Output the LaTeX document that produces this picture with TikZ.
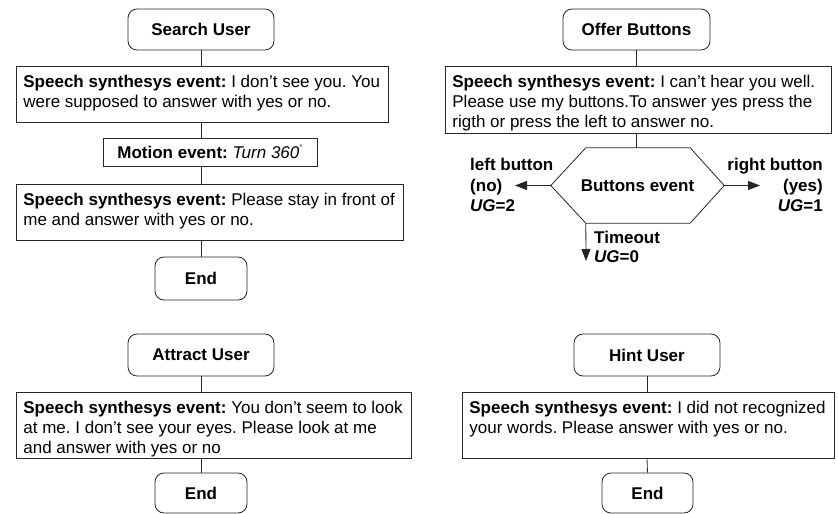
\documentclass[tikz,border=0pt]{standalone}
\usepackage{fontspec}
\setmainfont{Liberation Sans}
\usetikzlibrary{arrows.meta}
\frenchspacing
% fixed-size text block for the event boxes: width, height, text
\newcommand\speechtext[3]{\parbox[c][#2][t]{#1}{\raggedright\leftskip=7bp\rule{0pt}{21bp}#3}}
\newcommand\degmark{{\fontsize{8bp}{8bp}\selectfont\raisebox{8bp}{°}}}
\begin{document}
\begin{tikzpicture}[x=1bp,y=-1bp,
  every node/.style={font=\fontsize{17bp}{20bp}\selectfont},
  linecol/.style={draw=black!85, line width=0.8bp},
  title/.style={linecol, rounded corners=9bp, inner sep=0pt,
    font=\fontsize{17bp}{20bp}\selectfont\bfseries},
  speech/.style={linecol, inner sep=0pt, anchor=north west},
  plainbox/.style={linecol, inner sep=0pt},
  conn/.style={linecol},
  arr/.style={linecol, -{Triangle[length=12bp,width=9bp]}},
  lbl/.style={inner sep=0pt, font=\fontsize{17bp}{20.5bp}\selectfont\bfseries}
]
\useasboundingbox (0,0) rectangle (838,514);

% ---------- Search User ----------
\node[title, minimum width=146bp, minimum height=41bp] (su) at (201,29.5) {Search User};
\node[speech] (s1) at (16,66) {\speechtext{372bp}{56bp}{\textbf{Speech synthesys event:} I don’t see you. You\\
were supposed to answer with yes or no.}};
\node[plainbox, minimum width=214bp, minimum height=28bp] (m1) at (210,152)
  {\textbf{Motion event:} \textit{Turn 360}\degmark};
\node[speech] (s2) at (16,184) {\speechtext{387bp}{56bp}{\textbf{Speech synthesys event:} Please stay in front of\\
me and answer with yes or no.}};
\node[title, minimum width=92bp, minimum height=43bp] (e1) at (201,278.5) {End};

\draw[conn] (su.south) -- (su.south |- s1.north);
\draw[conn] (su.south |- s1.south) -- (su.south |- m1.north);
\draw[conn] (su.south |- m1.south) -- (su.south |- s2.north);
\draw[conn] (su.south |- s2.south) -- (e1.north);

% ---------- Offer Buttons ----------
\node[title, minimum width=147bp, minimum height=41bp] (ob) at (636.5,29.5) {Offer Buttons};
\node[speech] (s3) at (445,66) {\speechtext{386bp}{67bp}{\textbf{Speech synthesys event:} I can’t hear you well.\\
Please use my buttons.To answer yes press the\\
rigth or press the left to answer no.}};
\node[inner sep=0pt, minimum width=173bp, minimum height=75bp,
  font=\fontsize{17bp}{20bp}\selectfont\bfseries] (be) at (637.5,185.5) {Buttons event};
\draw[linecol] (be.west) -- ([xshift=35bp]be.north west) -- ([xshift=-34bp]be.north east)
  -- (be.east) -- ([xshift=-34bp]be.south east) -- ([xshift=35bp]be.south west) -- cycle;

\draw[conn] (ob.south) -- (ob.south |- s3.north);
\draw[conn] (ob.south |- s3.south) -- (ob.south |- be.north);

\coordinate (lt) at (515,185.5);
\coordinate (rt) at (760,185.5);
\coordinate (dn) at (586,261);
\draw[arr] (be.west) -- (lt);
\draw[arr] (be.east) -- (rt);
\draw[arr] ([xshift=35bp]be.south west) -- (dn);

\node[lbl, align=left, anchor=north west] (ll) at (470,158) {left button\\(no)\\\textit{UG}=2};
\node[lbl, align=right, anchor=north east] (rl) at (823,158) {right button\\(yes)\\\textit{UG}=1};
\node[lbl, align=left, anchor=north west, font=\fontsize{17bp}{19bp}\selectfont\bfseries] (tl) at (594,231) {Timeout\\\textit{UG}=0};

% ---------- Attract User ----------
\node[title, minimum width=146bp, minimum height=42bp] (au) at (201,355) {Attract User};
\node[speech] (s4) at (16,392) {\speechtext{395bp}{66bp}{\textbf{Speech synthesys event:} You don’t seem to look\\
at me. I don’t see your eyes. Please look at me\\
and answer with yes or no}};
\node[title, minimum width=92bp, minimum height=40bp] (e2) at (201,493) {End};
\draw[conn] (au.south) -- (au.south |- s4.north);
\draw[conn] (au.south |- s4.south) -- (e2.north);

% ---------- Hint User ----------
\node[title, minimum width=146bp, minimum height=42bp] (hu) at (647,355) {Hint User};
\node[speech] (s5) at (462,392) {\speechtext{372bp}{66bp}{\textbf{Speech synthesys event:} I did not recognized\\
your words. Please answer with yes or no.}};
\node[title, minimum width=91bp, minimum height=40bp] (e3) at (647.5,493) {End};
\draw[conn] (hu.south) -- (hu.south |- s5.north);
\draw[conn] (hu.south |- s5.south) -- (e3.north);
\end{tikzpicture}
\end{document}
